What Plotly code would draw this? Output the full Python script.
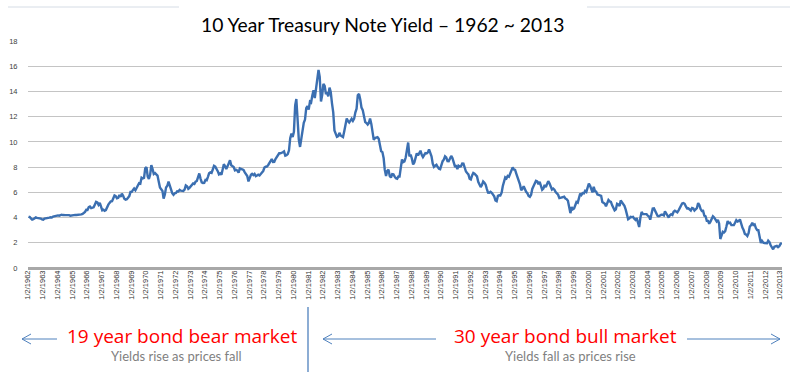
import pandas as pd
import plotly.graph_objects as go

# ---------------- data (monthly readings of the 10-year yield, %) ----------------
y1962 = [4.08, 4.04, 3.93, 3.84, 3.87, 3.91, 4.01, 3.98, 3.98, 3.93, 3.92, 3.86]
y1963 = [3.83, 3.92, 3.93, 3.97, 3.93, 3.99, 4.02, 4.00, 4.08, 4.11, 4.12, 4.13]
y1964 = [4.17, 4.15, 4.22, 4.23, 4.20, 4.17, 4.19, 4.19, 4.20, 4.19, 4.15, 4.18]
y1965 = [4.19, 4.21, 4.21, 4.20, 4.21, 4.21, 4.20, 4.25, 4.29, 4.35, 4.45, 4.62]
y1966 = [4.61, 4.83, 4.87, 4.75, 4.78, 4.81, 5.02, 5.25, 5.20, 5.01, 5.16, 4.84]
y1967 = [4.58, 4.63, 4.54, 4.59, 4.85, 5.02, 5.16, 5.28, 5.30, 5.48, 5.75, 5.70]
y1968 = [5.53, 5.56, 5.80, 5.64, 5.90, 5.72, 5.50, 5.42, 5.46, 5.58, 5.70, 6.03]
y1969 = [6.04, 6.19, 6.30, 6.17, 6.32, 6.57, 6.72, 6.69, 7.16, 7.10, 7.14, 7.90]
y1970 = [8.00, 7.24, 7.07, 7.39, 8.15, 7.84, 7.46, 7.53, 7.39, 7.33, 6.84, 6.39]
y1971 = [6.24, 6.11, 5.50, 5.83, 6.39, 6.52, 6.85, 6.58, 6.14, 5.93, 5.81, 5.93]
y1972 = [5.95, 6.08, 6.07, 6.19, 6.13, 6.11, 6.11, 6.21, 6.55, 6.48, 6.28, 6.36]
y1973 = [6.46, 6.64, 6.71, 6.67, 6.85, 6.90, 7.13, 7.50, 7.09, 6.79, 6.73, 6.74]
y1974 = [6.99, 6.96, 7.21, 7.51, 7.58, 7.54, 7.81, 8.10, 8.04, 7.90, 7.68, 7.43]
y1975 = [7.50, 7.39, 7.73, 8.23, 8.06, 7.86, 8.06, 8.40, 8.55, 8.14, 8.05, 8.00]
y1976 = [7.74, 7.79, 7.73, 7.56, 7.90, 7.86, 7.83, 7.77, 7.59, 7.41, 7.29, 6.87]
y1977 = [7.21, 7.39, 7.46, 7.37, 7.46, 7.28, 7.33, 7.40, 7.34, 7.52, 7.58, 7.69]
y1978 = [7.96, 8.03, 8.04, 8.15, 8.35, 8.46, 8.64, 8.41, 8.42, 8.64, 8.81, 9.01]
y1979 = [9.10, 9.10, 9.12, 9.18, 9.25, 8.91, 8.95, 9.03, 9.33, 10.30, 10.65, 10.39]
y1980 = [10.80, 12.90, 13.40, 11.47, 10.18, 9.60, 10.25, 11.10, 11.51, 11.75, 12.68, 12.84]
y1981 = [12.57, 13.19, 13.12, 13.68, 14.10, 13.47, 14.28, 14.94, 15.70, 15.15, 13.20, 13.72]
y1982 = [14.59, 14.43, 13.86, 13.87, 13.62, 14.30, 13.95, 13.06, 12.34, 10.91, 10.55, 10.40]
y1983 = [10.46, 10.72, 10.51, 10.40, 10.38, 10.85, 11.38, 11.85, 11.65, 11.54, 11.69, 11.83]
y1984 = [11.67, 11.84, 12.32, 12.63, 13.70, 13.80, 13.36, 12.72, 12.52, 12.16, 11.57, 11.50]
y1985 = [11.38, 11.51, 11.86, 11.43, 10.85, 10.16, 10.31, 10.33, 10.37, 10.24, 9.78, 9.26]
y1986 = [9.19, 8.70, 7.78, 7.30, 7.71, 7.80, 7.30, 7.17, 7.45, 7.43, 7.25, 7.11]
y1987 = [7.08, 7.25, 7.25, 8.02, 8.61, 8.40, 8.45, 8.76, 9.42, 9.95, 8.86, 8.99]
y1988 = [8.67, 8.21, 8.37, 8.72, 9.09, 8.92, 9.06, 9.30, 8.98, 8.80, 8.96, 9.11]
y1989 = [9.09, 9.17, 9.40, 9.18, 8.86, 8.28, 8.02, 8.11, 8.19, 8.01, 7.87, 7.84]
y1990 = [8.21, 8.47, 8.59, 8.85, 8.76, 8.48, 8.47, 8.75, 8.89, 8.72, 8.39, 8.08]
y1991 = [8.09, 7.85, 8.11, 8.04, 8.07, 8.28, 8.27, 7.90, 7.65, 7.53, 7.42, 7.09]
y1992 = [7.03, 7.34, 7.54, 7.48, 7.39, 7.26, 6.84, 6.59, 6.42, 6.59, 6.87, 6.77]
y1993 = [6.60, 6.26, 5.98, 5.97, 6.04, 5.96, 5.81, 5.68, 5.36, 5.30, 5.72, 5.77]
y1994 = [5.75, 5.97, 6.48, 6.97, 7.18, 7.10, 7.30, 7.24, 7.46, 7.74, 7.98, 7.81]
y1995 = [7.78, 7.47, 7.20, 7.06, 6.63, 6.17, 6.28, 6.49, 6.20, 6.04, 5.93, 5.71]
y1996 = [5.65, 5.81, 6.27, 6.51, 6.74, 6.91, 6.87, 6.64, 6.83, 6.53, 6.20, 6.30]
y1997 = [6.58, 6.42, 6.69, 6.89, 6.71, 6.49, 6.22, 6.30, 6.21, 6.03, 5.88, 5.81]
y1998 = [5.54, 5.57, 5.65, 5.64, 5.65, 5.50, 5.46, 5.34, 4.81, 4.35, 4.83, 4.65]
y1999 = [4.72, 5.00, 5.23, 5.18, 5.54, 5.90, 5.79, 5.94, 5.92, 6.11, 6.03, 6.28]
y2000 = [6.70, 6.52, 6.26, 5.99, 6.44, 6.10, 6.05, 5.83, 5.80, 5.74, 5.72, 5.24]
y2001 = [5.16, 5.10, 4.89, 5.14, 5.39, 5.28, 5.24, 4.97, 4.73, 4.57, 4.65, 5.09]
y2002 = [5.04, 4.91, 5.35, 5.21, 5.16, 4.93, 4.65, 4.26, 3.87, 3.94, 4.05, 4.03]
y2003 = [4.05, 3.90, 3.81, 3.96, 3.57, 3.25, 3.98, 4.45, 4.27, 4.29, 4.30, 4.27]
y2004 = [4.15, 4.08, 3.83, 4.35, 4.72, 4.73, 4.50, 4.28, 4.13, 4.10, 4.19, 4.23]
y2005 = [4.22, 4.17, 4.50, 4.34, 4.14, 4.00, 4.18, 4.26, 4.20, 4.46, 4.54, 4.47]
y2006 = [4.42, 4.57, 4.72, 4.99, 5.11, 5.15, 5.09, 4.88, 4.72, 4.73, 4.60, 4.56]
y2007 = [4.76, 4.72, 4.56, 4.69, 4.75, 5.15, 5.00, 4.67, 4.52, 4.53, 4.15, 4.10]
y2008 = [3.74, 3.74, 3.51, 3.68, 3.88, 4.10, 4.01, 3.89, 3.69, 3.81, 3.53, 2.30]
y2009 = [2.52, 2.87, 2.82, 2.93, 3.29, 3.72, 3.56, 3.59, 3.40, 3.39, 3.40, 3.59]
y2010 = [3.80, 3.69, 3.73, 3.85, 3.42, 3.20, 3.01, 2.70, 2.65, 2.54, 2.76, 3.29]
y2011 = [3.39, 3.58, 3.41, 3.46, 3.17, 3.00, 3.00, 2.30, 1.98, 2.15, 2.01, 1.98]
y2012 = [1.97, 1.97, 2.17, 2.05, 1.80, 1.62, 1.48, 1.68, 1.72, 1.75, 1.65, 1.72]
y2013 = [1.91, 1.98]

yearly = [y1962, y1963, y1964, y1965, y1966, y1967, y1968, y1969, y1970, y1971,
          y1972, y1973, y1974, y1975, y1976, y1977, y1978, y1979, y1980, y1981,
          y1982, y1983, y1984, y1985, y1986, y1987, y1988, y1989, y1990, y1991,
          y1992, y1993, y1994, y1995, y1996, y1997, y1998, y1999, y2000, y2001,
          y2002, y2003, y2004, y2005, y2006, y2007, y2008, y2009, y2010, y2011,
          y2012, y2013]
yields = [v for yr in yearly for v in yr]
dates = pd.date_range("1962-01-01", periods=len(yields), freq="MS") + pd.Timedelta(days=14)

tick_years = list(range(1962, 2014))
tick_vals = [f"{y}-01-02" for y in tick_years]
tick_text = [f"1/2/{y}" for y in tick_years]
y_ticks = [0, 2, 4, 6, 8, 10, 12, 14, 16, 18]

title_text = "10 Year Treasury Note Yield \u2013 1962 ~ 2013"
bear_text = "19 year bond bear market"
bear_sub = "Yields rise as prices fall"
bull_text = "30 year bond bull market"
bull_sub = "Yields fall as prices rise"

# ---------------- layout helpers (pixel -> paper) ----------------
W, H = 800, 381
L, R, T, B = 28, 782, 41, 268


def px(x):
    return (x - L) / (R - L)


def py(y):
    return (B - y) / (B - T)


fig = go.Figure()
fig.add_trace(go.Scatter(
    x=dates, y=yields, mode="lines",
    line=dict(color="#3b6fb1", width=2.4),
    hoverinfo="skip", showlegend=False,
))

line_blue = "#4f81bd"
shapes = [
    # faint chart border (top)
    dict(type="line", xref="paper", yref="paper", x0=px(8), x1=px(790), y0=py(7), y1=py(7),
         line=dict(color="#d5dce5", width=1)),
    # white title box covering gridlines
    dict(type="rect", xref="paper", yref="paper", x0=px(179), x1=px(587), y0=py(0), y1=py(44),
         fillcolor="white", line=dict(width=0), layer="above"),
    # divider
    dict(type="line", xref="paper", yref="paper", x0=px(308), x1=px(308), y0=py(307), y1=py(372),
         line=dict(color=line_blue, width=1.3)),
    # left arrow
    dict(type="line", xref="paper", yref="paper", x0=px(22), x1=px(57), y0=py(339), y1=py(339),
         line=dict(color=line_blue, width=1)),
    dict(type="path", xref="paper", yref="paper",
         path=f"M {px(31)} {py(334)} L {px(22)} {py(339)} L {px(31)} {py(344)}",
         line=dict(color=line_blue, width=1)),
    # middle arrow
    dict(type="line", xref="paper", yref="paper", x0=px(323), x1=px(436), y0=py(339), y1=py(339),
         line=dict(color=line_blue, width=1)),
    dict(type="path", xref="paper", yref="paper",
         path=f"M {px(332)} {py(334)} L {px(323)} {py(339)} L {px(332)} {py(344)}",
         line=dict(color=line_blue, width=1)),
    # right arrow
    dict(type="line", xref="paper", yref="paper", x0=px(687), x1=px(780), y0=py(339), y1=py(339),
         line=dict(color=line_blue, width=1)),
    dict(type="path", xref="paper", yref="paper",
         path=f"M {px(771)} {py(334)} L {px(780)} {py(339)} L {px(771)} {py(344)}",
         line=dict(color=line_blue, width=1)),
]


def label(text, x, y, family, size, color):
    return dict(text=text, xref="paper", yref="paper", x=px(x), y=py(y),
                xanchor="center", yanchor="middle", showarrow=False,
                font=dict(family=family, size=size, color=color))


annotations = [
    label(title_text, 383, 25, "Lato, Open Sans, sans-serif", 19.3, "#000000"),
    label(bear_text, 182, 336, "Open Sans, sans-serif", 19, "#ff0000"),
    label(bear_sub, 176, 356, "Lato, sans-serif", 13, "#7f7f7f"),
    label(bull_text, 565, 336, "Open Sans, sans-serif", 19, "#ff0000"),
    label(bull_sub, 570, 356, "Lato, sans-serif", 13, "#7f7f7f"),
]

fig.update_layout(
    width=W, height=H,
    margin=dict(l=L, r=W - R, t=T, b=H - B, pad=0, autoexpand=False),
    paper_bgcolor="white", plot_bgcolor="white",
    shapes=shapes, annotations=annotations,
    xaxis=dict(
        range=["1962-01-02", "2013-02-20"],
        tickmode="array", tickvals=tick_vals, ticktext=tick_text,
        tickangle=-90, tickfont=dict(family="Liberation Sans, Arial", size=7.5, color="#333333"),
        showgrid=False, zeroline=False, showline=False, ticks="", ticklen=0,
    ),
    yaxis=dict(
        range=[0, 18], tickmode="array", tickvals=y_ticks,
        tickfont=dict(family="Liberation Sans, Arial", size=7.5, color="#404040"),
        showgrid=True, gridcolor="#c4c4c4", gridwidth=1.2,
        zeroline=True, zerolinecolor="#a8a8a8", zerolinewidth=2.5,
        showline=False, ticks="outside", ticklen=8, tickcolor="rgba(0,0,0,0)",
    ),
)

fig.write_html("out.html", config={"displayModeBar": False},
               post_script="document.body.style.margin='0px';")
